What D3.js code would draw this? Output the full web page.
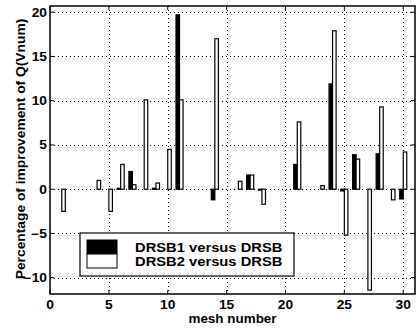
<!DOCTYPE html>
<html><head><meta charset="utf-8">
<script src="https://cdn.jsdelivr.net/npm/d3@7"></script>
<style>body{margin:0;background:#fff}svg{display:block}text{font-family:"Liberation Sans",Arial,sans-serif;fill:#000}</style>
</head><body><svg id="c" width="420" height="330"></svg>
<script>
const meshes = d3.range(1, 31);
const drsb1 = [0,0,0,0,0,0.1,2.0,0,0.1,0,19.7,0,0,-1.2,0,0,1.6,-0.1,0,0,2.8,0,0,11.9,-0.2,3.9,0,4.0,0,-1.1];
const drsb2 = [-2.5,0,0,1.0,-2.5,2.8,0.5,10.1,0.7,4.5,10.1,0,0,17.0,0,0.9,1.6,-1.7,0,0,7.6,0,0.4,17.9,-5.2,3.4,-11.4,9.3,-1.2,4.2];
const seriesNames = ["DRSB1 versus DRSB","DRSB2 versus DRSB"];
const xTicks = [0,5,10,15,20,25,30];
const yTicks = [-10,-5,0,5,10,15,20];

const svg = d3.select("#c");
const L=50,R=415,T=6,B=294;
const x = d3.scaleLinear().domain([0,31]).range([L,R]);
const y = d3.scaleLinear().domain([-11.84,20.7]).range([B,T]);

// grid
const g = svg.append("g").attr("shape-rendering","crispEdges");
g.selectAll(".gx").data(xTicks.slice(1)).join("line")
  .attr("x1",d=>Math.round(x(d))+0.5).attr("x2",d=>Math.round(x(d))+0.5).attr("y1",T).attr("y2",B)
  .attr("stroke","#000").attr("stroke-width",1).attr("stroke-dasharray","1,3");
g.selectAll(".gy").data(yTicks).join("line")
  .attr("y1",d=>Math.round(y(d))+0.5).attr("y2",d=>Math.round(y(d))+0.5).attr("x1",L).attr("x2",R)
  .attr("stroke","#000").attr("stroke-width",1).attr("stroke-dasharray","1,3");

// bars
const bw = 0.3;
const rows = meshes.map((m,i)=>({m, a:drsb1[i], b:drsb2[i]}));
function barRect(sel, key, off, fill){
  sel.selectAll("rect."+key).data(rows).join("rect").attr("class",key)
    .attr("x",d=>x(d.m+off))
    .attr("width",x(bw)-x(0))
    .attr("y",d=>y(Math.max(0,d[key])))
    .attr("height",d=>Math.abs(y(d[key])-y(0)))
    .attr("fill",fill).attr("stroke","#000").attr("stroke-width",1.2);
}
barRect(svg,"a",-bw,"#000");
barRect(svg,"b",0,"#fff");

// ticks (inward, all sides)
const tk=4;
xTicks.forEach(t=>{
  svg.append("line").attr("x1",x(t)).attr("x2",x(t)).attr("y1",B).attr("y2",B-tk).attr("stroke","#000");
  svg.append("line").attr("x1",x(t)).attr("x2",x(t)).attr("y1",T).attr("y2",T+tk).attr("stroke","#000");
});
yTicks.forEach(t=>{
  svg.append("line").attr("y1",y(t)).attr("y2",y(t)).attr("x1",L).attr("x2",L+tk).attr("stroke","#000");
  svg.append("line").attr("y1",y(t)).attr("y2",y(t)).attr("x1",R).attr("x2",R-tk).attr("stroke","#000");
});
// frame
svg.append("rect").attr("x",L).attr("y",T).attr("width",R-L).attr("height",B-T)
  .attr("fill","none").attr("stroke","#000").attr("stroke-width",1.5);

function txt(str,tx,ty,anchor,size,weight,sx,rot){
  return svg.append("text").attr("transform",`translate(${tx},${ty})${rot?` rotate(${rot})`:""} scale(${sx},1)`)
    .attr("text-anchor",anchor).style("font-size",size+"px").style("font-weight",weight).text(str);
}
xTicks.forEach(t=>txt(String(t),x(t),309,"middle",12,"bold",1.15));
yTicks.forEach(t=>txt(String(t).replace("-","\u2212"),47,y(t)+4.5,"end",12,"bold",1.15));

txt("mesh number",(L+R)/2,323,"middle",12,"bold",1.12);
txt("Percentage of improvement of Q(Vnum)",25,149,"middle",12,"bold",1.15,-90);

// legend
svg.append("rect").attr("x",80).attr("y",233).attr("width",214).attr("height",43).attr("fill","#fff").attr("stroke","#000").attr("stroke-width",1.2);
svg.append("rect").attr("x",87).attr("y",240).attr("width",30).attr("height",14).attr("fill","#000").attr("stroke","#000");
svg.append("rect").attr("x",87).attr("y",254).attr("width",30).attr("height",14).attr("fill","#fff").attr("stroke","#000");
txt(seriesNames[0],135,252,"start",12.5,"bold",1.18);
txt(seriesNames[1],135,266,"start",12.5,"bold",1.18);
</script></body></html>
